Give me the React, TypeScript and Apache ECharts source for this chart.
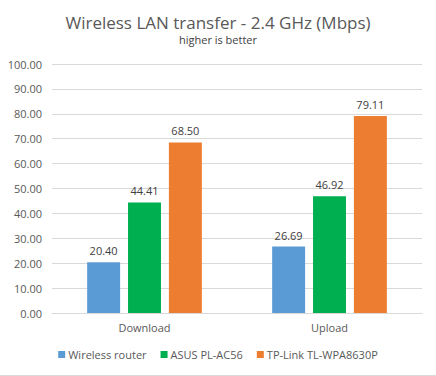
import React, { useEffect, useRef } from "react";
import * as echarts from "echarts";

const categories = ["Download", "Upload"];
const seriesNames = ["Wireless router", "ASUS PL-AC56", "TP-Link TL-WPA8630P"];
const wirelessRouter = [20.4, 26.69];
const asus = [44.41, 46.92];
const tplink = [68.5, 79.11];
const colors = ["#5B9BD5", "#00B050", "#ED7D31"];

const FONT = "'Open Sans', 'Noto Sans', sans-serif";
const GRAY = "#595959";

export default function App() {
  const ref = useRef<HTMLDivElement>(null);
  useEffect(() => {
    if (!ref.current) return;
    const chart = echarts.init(ref.current, null, { renderer: "svg" });
    const data = [wirelessRouter, asus, tplink];
    chart.setOption({
      animation: false,
      backgroundColor: "#ffffff",
      textStyle: { fontFamily: FONT },
      title: [
        {
          text: "Wireless LAN transfer - 2.4 GHz (Mbps)",
          left: "center",
          top: 12,
          padding: 0,
          textStyle: {
            fontFamily: FONT,
            fontSize: 17,
            lineHeight: 20,
            fontWeight: "normal",
            color: GRAY,
          },
        },
        {
          text: "higher is better",
          left: "center",
          top: 33,
          padding: 0,
          textStyle: {
            fontFamily: FONT,
            fontSize: 11,
            lineHeight: 13,
            fontWeight: "normal",
            color: "#404040",
          },
        },
      ],
      legend: {
        bottom: 11,
        left: "center",
        itemWidth: 7,
        itemHeight: 7,
        itemGap: 14,
        icon: "rect",
        textStyle: { fontFamily: FONT, fontSize: 11, color: GRAY, padding: [0, 0, 0, -2] },
        data: seriesNames,
      },
      graphic: [
        {
          type: "line",
          shape: { x1: 0, y1: 375.5, x2: 436, y2: 375.5 },
          style: { stroke: "#d9d9d9", lineWidth: 1 },
          silent: true,
        },
      ],
      grid: { left: 52, right: 14, top: 64, bottom: 63, containLabel: false },
      xAxis: {
        type: "category",
        data: categories,
        axisLine: { lineStyle: { color: "#d9d9d9" } },
        axisTick: { show: false },
        axisLabel: { color: GRAY, fontSize: 11, fontFamily: FONT, margin: 9 },
      },
      yAxis: {
        type: "value",
        min: 0,
        max: 100,
        interval: 10,
        axisLine: { show: false },
        axisTick: { show: false },
        splitLine: { lineStyle: { color: "#d9d9d9" } },
        axisLabel: {
          color: GRAY,
          fontSize: 11,
          fontFamily: FONT,
          margin: 10,
          formatter: (v: number) => v.toFixed(2),
        },
      },
      series: seriesNames.map((name, i) => ({
        name,
        type: "bar",
        data: data[i],
        itemStyle: { color: colors[i] },
        barGap: "24%",
        barCategoryGap: "38%",
        label: {
          show: true,
          position: "top",
          distance: 6,
          color: "#404040",
          fontSize: 11,
          fontFamily: FONT,
          formatter: (p: any) => Number(p.value).toFixed(2),
        },
      })),
    });
    return () => chart.dispose();
  }, []);
  return (
    <div
      ref={ref}
      style={{ position: "fixed", left: 0, top: 0, width: 436, height: 376 }}
    />
  );
}
